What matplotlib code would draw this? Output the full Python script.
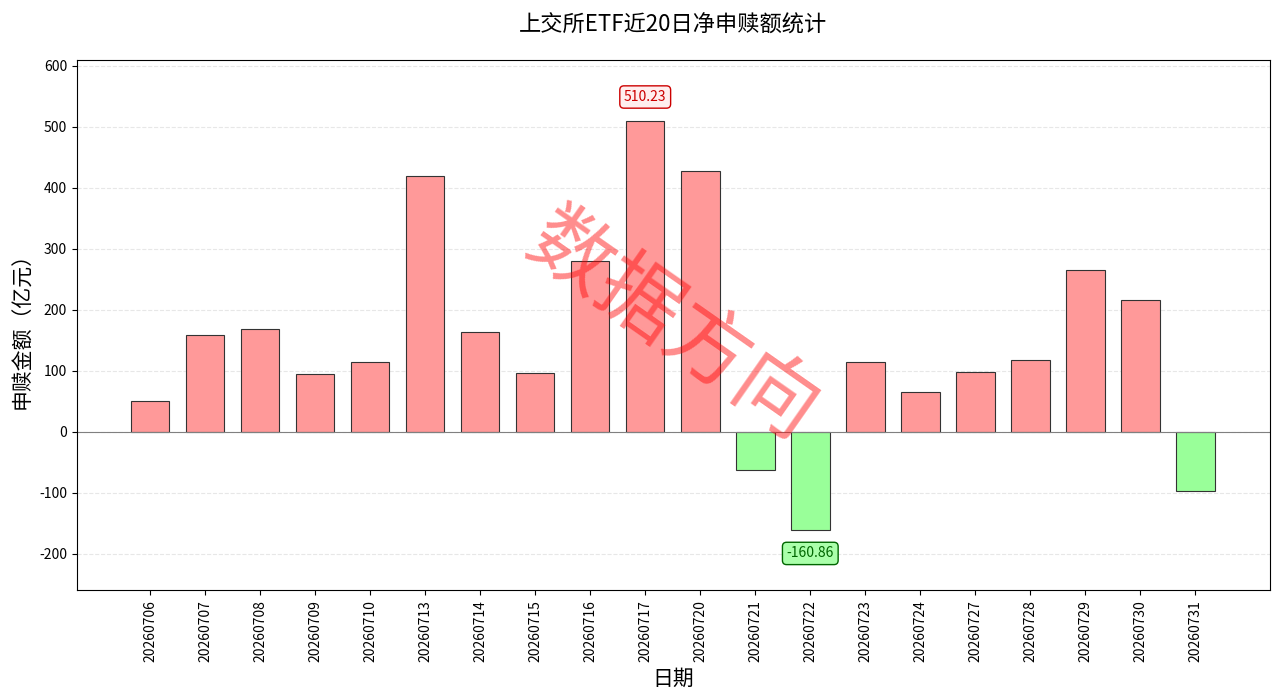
import matplotlib.pyplot as plt
import numpy as np

plt.rcParams['font.family'] = ['Noto Sans CJK SC', 'DejaVu Sans']
plt.rcParams['axes.unicode_minus'] = False

dates = ['20260706', '20260707', '20260708', '20260709', '20260710', '20260713',
         '20260714', '20260715', '20260716', '20260717', '20260720', '20260721',
         '20260722', '20260723', '20260724', '20260727', '20260728', '20260729',
         '20260730', '20260731']
values = [50, 158, 168, 95, 115, 420, 164, 96, 280, 510.23, 428, -62, -160.86,
          115, 65, 98, 118, 265, 216, -97]

fig, ax = plt.subplots(figsize=(12.8, 6.96), dpi=100)
fig.subplots_adjust(left=0.06, right=0.992, top=0.914, bottom=0.152)

x = np.arange(len(dates))
colors = ['#ff9999' if v >= 0 else '#99ff99' for v in values]
ax.bar(x, values, width=0.7, color=colors, edgecolor='#333333', linewidth=0.8)
ax.axhline(0, color='gray', linewidth=0.8)
ax.grid(axis='y', linestyle='--', alpha=0.3)
ax.set_axisbelow(True)

ax.set_xticks(x)
ax.set_xticklabels(dates, rotation=90)
ax.set_ylim(-260, 610)
ax.set_yticks(range(-200, 601, 100))
ax.set_xlim(-1.33, len(dates) - 1 + 1.35)

imax = int(np.argmax(values))
imin = int(np.argmin(values))
ax.annotate(f'{values[imax]:.2f}', (x[imax], values[imax]), xytext=(0, 12),
            textcoords='offset points', ha='center', va='bottom', fontsize=10, color='#cc0000',
            bbox=dict(boxstyle='round,pad=0.3', fc='#ffeeee', ec='#cc0000'))
ax.annotate(f'{values[imin]:.2f}', (x[imin], values[imin]), xytext=(0, -12),
            textcoords='offset points', ha='center', va='top', fontsize=10, color='#006600',
            bbox=dict(boxstyle='round,pad=0.3', fc='#aaffaa', ec='#006600'))

ax.set_title('上交所ETF近20日净申赎额统计', fontsize=16, pad=20)
ax.set_xlabel('日期', fontsize=15)
ax.set_ylabel('申赎金额（亿元）', fontsize=15)

fig.text(0.525, 0.53, '数据方向', fontsize=60, color='red', alpha=0.45,
         rotation=-35, ha='center', va='center')

fig.savefig('out.png')
